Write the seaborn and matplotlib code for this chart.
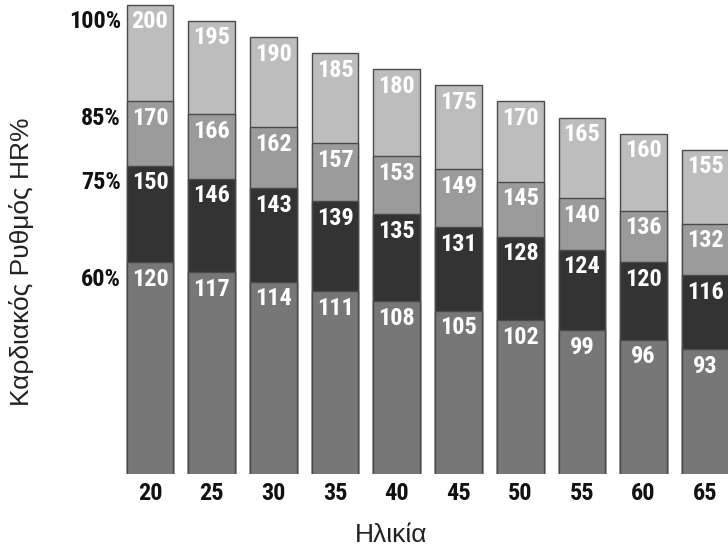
import matplotlib
matplotlib.use("Agg")
import matplotlib.pyplot as plt
from matplotlib import font_manager
import seaborn as sns
import pandas as pd

# data
ages = [20, 25, 30, 35, 40, 45, 50, 55, 60, 65]
hr_100 = [200, 195, 190, 185, 180, 175, 170, 165, 160, 155]
hr_85 = [170, 166, 162, 157, 153, 149, 145, 140, 136, 132]
hr_75 = [150, 146, 143, 139, 135, 131, 128, 124, 120, 116]
hr_60 = [120, 117, 114, 111, 108, 105, 102, 99, 96, 93]
zone_labels = ["100%", "85%", "75%", "60%"]

sns.set_style("white")

installed = {f.name for f in font_manager.fontManager.ttflist}
narrow = next((f for f in ["Liberation Sans Narrow", "Roboto Condensed", "DejaVu Sans Condensed"]
               if f in installed), "DejaVu Sans")
plain = "Liberation Sans" if "Liberation Sans" in installed else "DejaVu Sans"
plt.rcParams["font.family"] = [plain, "DejaVu Sans"]

df = pd.DataFrame({"age": ages, "p100": hr_100, "p85": hr_85, "p75": hr_75, "p60": hr_60})
layers = [("p100", "#bdbdbd"), ("p85", "#9b9b9b"), ("p75", "#333333"), ("p60", "#777777")]

fig = plt.figure(figsize=(7.28, 5.51), dpi=100)
ax = fig.add_axes([119.15 / 728, 77 / 551, 617 / 728, 474 / 551])

# overlapping bars from tallest to shortest give the stacked look
for col, color in layers:
    sns.barplot(data=df, x="age", y=col, color=color, width=0.757,
                edgecolor="#4a4a4a", linewidth=1.0, ax=ax, saturation=1)

ax.set_xlim(-0.5, 9.5)
ax.set_ylim(54.3, 201.5)
sns.despine(ax=ax, left=True, bottom=True)
ax.set_yticks([])
ax.tick_params(axis="x", length=0, pad=6)
for lab in ax.get_xticklabels():
    lab.set_fontfamily([narrow, "DejaVu Sans"])
    lab.set_fontweight("bold")
    lab.set_fontsize(17.5)
    lab.set_color("#111111")

# value labels inside each segment
for i in range(len(ages)):
    for col, _ in layers:
        ax.annotate(str(df[col][i]), xy=(i, df[col][i]), xytext=(0, -4),
                    textcoords="offset points", ha="center", va="top",
                    color="white", fontsize=17.5, fontweight="bold",
                    family=[narrow, "DejaVu Sans"])

# zone percentages next to the first bar
for col, lab in zip([c for c, _ in layers], zone_labels):
    ax.annotate(lab, xy=(0, df[col][0]), xycoords=("axes fraction", "data"),
                xytext=(1.5, -4), textcoords="offset points", ha="right", va="top",
                color="#111111", fontsize=17.5, fontweight="bold",
                family=[narrow, "DejaVu Sans"])

ax.set_xlabel("Ηλικία", fontsize=19, color="#222222", va="center")
ax.xaxis.set_label_coords(0.4406, -0.1287)
ax.set_ylabel("Καρδιακός Ρυθμός HR%", fontsize=19, color="#222222", va="center")
ax.yaxis.set_label_coords(-0.1575, 0.447)

fig.savefig("out.png", dpi=100)
